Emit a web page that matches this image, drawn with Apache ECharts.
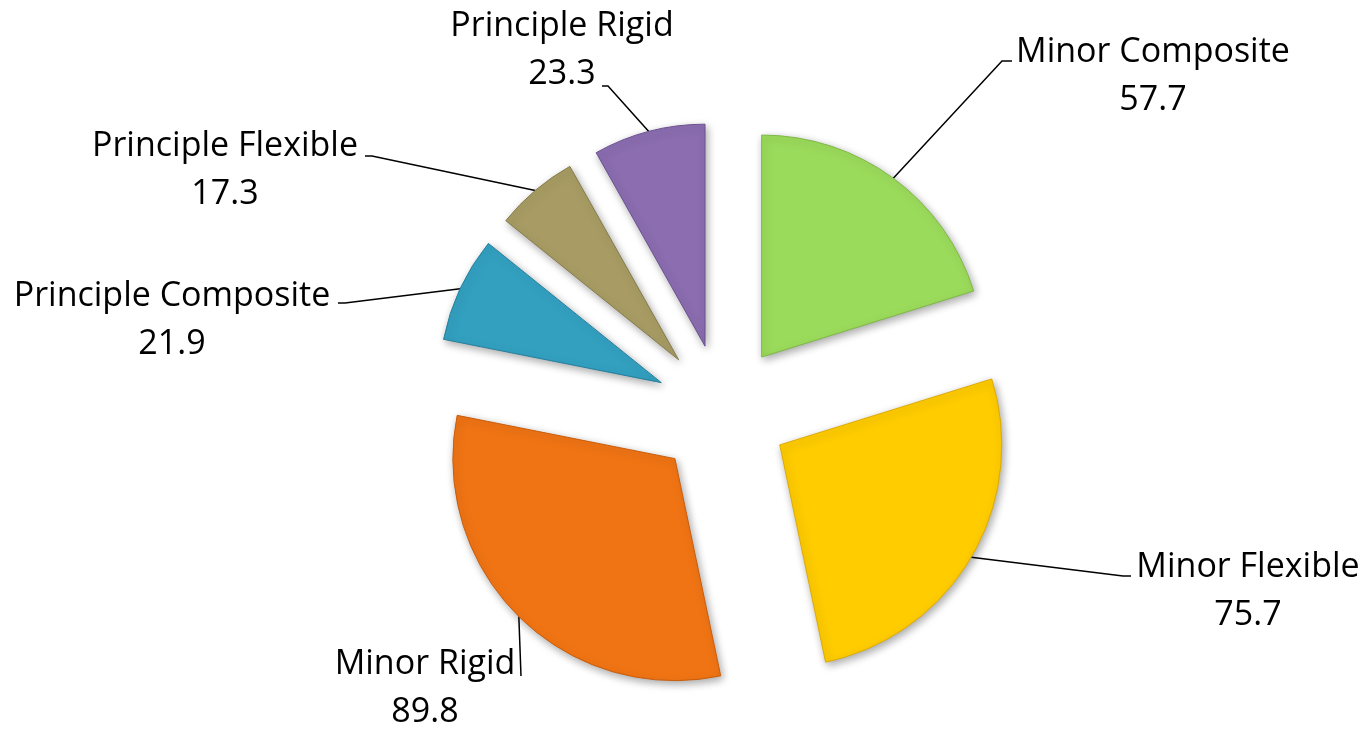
<!DOCTYPE html>
<html>
<head>
<meta charset="utf-8">
<title>Pie</title>
<script src="https://cdn.jsdelivr.net/npm/echarts@6/dist/echarts.min.js"></script>
<style>
  html, body { margin: 0; padding: 0; background: #fff; }
  #chart { width: 1369px; height: 731px; }
</style>
</head>
<body>
<div id="chart"></div>
<script>
const categories = ['Minor Composite', 'Minor Flexible', 'Minor Rigid', 'Principle Composite', 'Principle Flexible', 'Principle Rigid']
const values = [57.7, 75.7, 89.8, 21.9, 17.3, 23.3]
const colors = ['#9BDB5B', '#FFCC00', '#F07414', '#33A0C0', '#A89C64', '#8B6DB0']
const borders = ['#7DB844', '#DDAA00', '#C95C0A', '#23809E', '#857A48', '#6C5092']

// where each label block sits, plus leader line bend and end
const labelSpots = [
  { x: 1153, y: 76, line: [[1002, 61], [1012, 61]] },
  { x: 1248, y: 591, line: [[1123, 576], [1131, 576]] },
  { x: 425, y: 688, line: [[521, 676], [521, 676]] },
  { x: 172, y: 320, line: [[345, 303], [338, 303]] },
  { x: 225, y: 170, line: [[372, 156], [365, 156]] },
  { x: 562, y: 50, line: [[608, 86], [602, 86]] }
]

const pieCenter = [722, 411]
const explode = 67

const chart = echarts.init(document.getElementById('chart'))

const total = values.reduce((a, b) => a + b, 0)

// one pie per slice so every slice can be pushed out along its own mid angle
const series = categories.map((name, i) => {
  const before = values.slice(0, i).reduce((a, b) => a + b, 0)
  const mid = (before + values[i] / 2) / total * Math.PI * 2
  const cx = pieCenter[0] + explode * Math.sin(mid)
  const cy = pieCenter[1] - explode * Math.cos(mid)

  const data = categories.map((n, j) => {
    if (j === i) {
      return {
        name: n,
        value: values[j],
        itemStyle: { color: colors[j], borderColor: borders[j] }
      }
    }
    return {
      name: n,
      value: values[j],
      itemStyle: { color: 'rgba(0,0,0,0)', borderWidth: 0, shadowBlur: 0, shadowColor: 'rgba(0,0,0,0)' },
      label: { show: false },
      labelLine: { show: false }
    }
  })

  return {
    type: 'pie',
    center: [cx, cy],
    radius: 222,
    startAngle: 90,
    clockwise: true,
    avoidLabelOverlap: false,
    silent: true,
    data: data,
    itemStyle: {
      borderWidth: 1,
      shadowBlur: 8,
      shadowOffsetX: 2,
      shadowOffsetY: 3,
      shadowColor: 'rgba(0,0,0,0.35)'
    },
    label: {
      show: true,
      formatter: '{b}\n{c}',
      fontFamily: 'Open Sans',
      fontSize: 34,
      lineHeight: 48,
      color: '#000',
      align: 'center'
    },
    labelLine: {
      show: true,
      lineStyle: { color: '#000', width: 1.5 }
    },
    labelLayout: function (params) {
      if (params.dataIndex !== i) return {}
      const s = labelSpots[i]
      const start = params.labelLinePoints ? params.labelLinePoints[0] : s.line[0]
      return {
        x: s.x,
        y: s.y,
        align: 'center',
        verticalAlign: 'middle',
        labelLinePoints: [start, s.line[0], s.line[1]]
      }
    }
  }
})

chart.setOption({ animation: false, series: series })
</script>
</body>
</html>
